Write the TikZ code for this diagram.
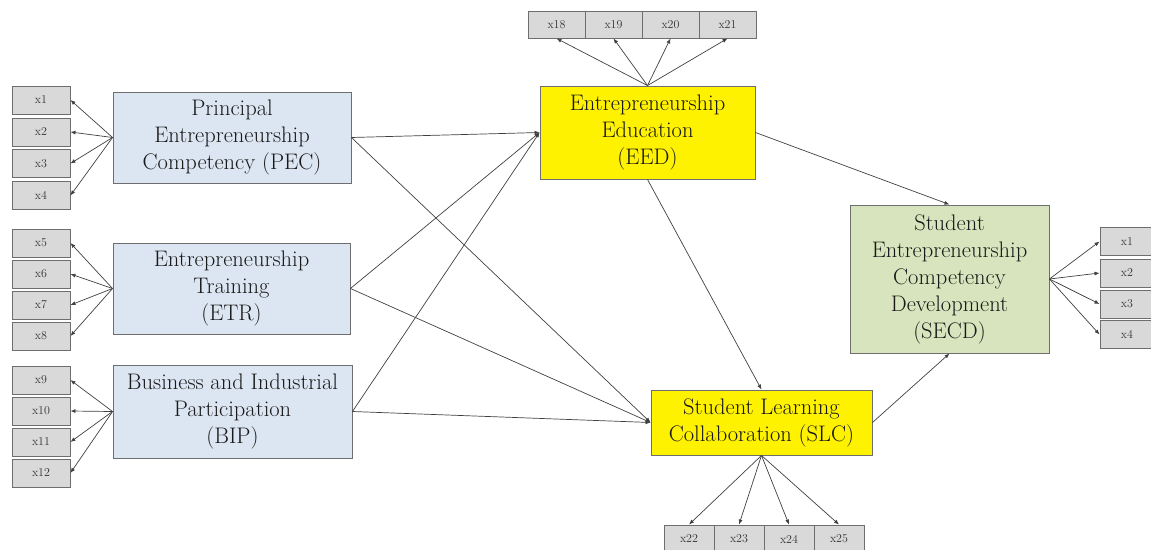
\documentclass[tikz,border=0pt]{standalone}
\usetikzlibrary{arrows.meta}
\definecolor{latblue}{RGB}{220,230,242}
\definecolor{latgreen}{RGB}{215,228,189}
\definecolor{indfill}{RGB}{217,217,217}
\definecolor{bordergray}{RGB}{110,110,110}
\begin{document}
\begin{tikzpicture}[x=1pt,y=-1pt,
  latent/.style={draw=bordergray, line width=0.9pt, align=center, inner sep=0pt,
    font=\fontsize{22.5}{27}\selectfont, text=black!90},
  ind/.style={draw=bordergray, line width=0.9pt, fill=indfill, inner sep=0pt,
    minimum width=58pt, minimum height=28pt, font=\fontsize{12}{14}\selectfont, text=black!80},
  arr/.style={-{Latex[length=5pt,width=4pt]}, draw=black!75, line width=0.7pt}]
\useasboundingbox (0,0) rectangle (1151,549);
% latent variables
\node[latent, fill=latblue, minimum width=238pt, minimum height=91pt] (PEC) at (232,137.5) {Principal\\Entrepreneurship\\Competency (PEC)};
\node[latent, fill=latblue, minimum width=237pt, minimum height=91pt] (ETR) at (231.5,288.5) {Entrepreneurship\\Training\\(ETR)};
\node[latent, fill=latblue, minimum width=239pt, minimum height=93pt] (BIP) at (232.5,411.5) {Business and Industrial\\Participation\\(BIP)};
\node[latent, fill=yellow, minimum width=215pt, minimum height=93pt] (EED) at (647.5,132.5) {Entrepreneurship\\Education\\(EED)};
\node[latent, fill=yellow, minimum width=221pt, minimum height=65pt] (SLC) at (761.5,422.5) {Student Learning\\Collaboration (SLC)};
\node[latent, fill=latgreen, minimum width=199pt, minimum height=148pt] (SECD) at (949.5,279) {Student\\Entrepreneurship\\Competency\\Development\\(SECD)};
% left indicators
\node[ind] (x1) at (41,100) {x1};
\node[ind] (x2) at (41,132) {x2};
\node[ind] (x3) at (41,163.5) {x3};
\node[ind] (x4) at (41,195.5) {x4};
\node[ind] (x5) at (41,243) {x5};
\node[ind] (x6) at (41,274) {x6};
\node[ind] (x7) at (41,305) {x7};
\node[ind] (x8) at (41,336) {x8};
\node[ind] (x9) at (41,380) {x9};
\node[ind] (x10) at (41,411) {x10};
\node[ind] (x11) at (41,442) {x11};
\node[ind] (x12) at (41,473) {x12};
% top indicators
\node[ind, minimum width=57pt, minimum height=27pt] (x18) at (556.5,24.5) {x18};
\node[ind, minimum width=57pt, minimum height=27pt] (x19) at (613.5,24.5) {x19};
\node[ind, minimum width=57pt, minimum height=27pt] (x20) at (670.5,24.5) {x20};
\node[ind, minimum width=57pt, minimum height=27pt] (x21) at (727.5,24.5) {x21};
% bottom indicators
\node[ind, minimum width=50pt, minimum height=28pt] (x22) at (689,539) {x22};
\node[ind, minimum width=50pt, minimum height=28pt] (x23) at (739,539) {x23};
\node[ind, minimum width=50pt, minimum height=28pt] (x24) at (789,539) {x24};
\node[ind, minimum width=50pt, minimum height=28pt] (x25) at (839,539) {x25};
% right indicators
\node[ind, minimum width=54pt] (r1) at (1127,241.5) {x1};
\node[ind, minimum width=54pt] (r2) at (1127,273) {x2};
\node[ind, minimum width=54pt] (r3) at (1127,304) {x3};
\node[ind, minimum width=54pt] (r4) at (1127,334.5) {x4};
% measurement arrows
\foreach \i in {x1,x2,x3,x4} \draw[arr] (PEC.west) -- (\i.east);
\foreach \i in {x5,x6,x7,x8} \draw[arr] (ETR.west) -- (\i.east);
\foreach \i in {x9,x10,x11,x12} \draw[arr] (BIP.west) -- (\i.east);
\foreach \i in {x18,x19,x20,x21} \draw[arr] (EED.north) -- (\i.south);
\foreach \i in {x22,x23,x24,x25} \draw[arr] (SLC.south) -- (\i.north);
\foreach \i in {r1,r2,r3,r4} \draw[arr] (SECD.east) -- (\i.west);
% structural arrows
\foreach \s in {PEC,ETR,BIP} {
  \draw[arr] (\s.east) -- (EED.west);
  \draw[arr] (\s.east) -- (SLC.west);
}
\draw[arr] (EED.east) -- (SECD.north);
\draw[arr] (EED.south) -- (SLC.north);
\draw[arr] (SLC.east) -- (SECD.south);
\end{tikzpicture}
\end{document}
